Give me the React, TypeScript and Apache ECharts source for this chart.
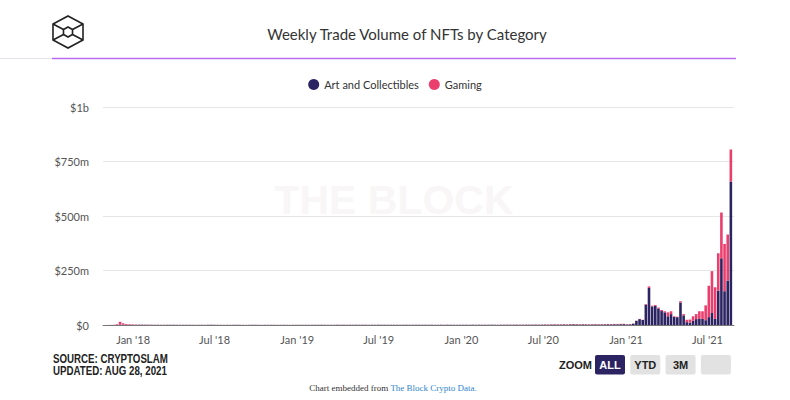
import React, { useEffect, useRef } from "react";
import * as echarts from "echarts";

const TITLE = "Weekly Trade Volume of NFTs by Category";
const SERIES_NAMES = ["Art and Collectibles", "Gaming"];
const SOURCE_LINES = ["SOURCE: CRYPTOSLAM", "UPDATED: AUG 28, 2021"];
const ZOOM_BUTTONS = ["ALL", "YTD", "3M", ""];

// first weekly bucket: Sunday Oct 29 2017, one value per week ($ millions)
const FIRST_WEEK = { y: 2017, m: 9, d: 29 };

const artValues = [
  // 2017 (Oct 29 - Dec 31)
  0.1, 0.1, 0.2, 0.3, 0.6, 1.2, 1.5, 1.1, 0.9, 0.8,
  // 2018
  0.9, 1.1, 1.3, 1.0, 0.8, 0.9, 0.7, 0.8, 0.6, 0.7, 0.9, 0.8, 1.0,
  0.7, 0.6, 0.8, 0.9, 0.7, 0.6, 0.5, 0.7, 0.8, 0.6, 0.9, 1.1, 0.8,
  0.7, 0.6, 0.5, 0.7, 0.6, 0.8, 0.9, 0.7, 0.6, 0.5, 0.6, 0.7, 0.8,
  0.6, 0.5, 0.7, 0.6, 0.8, 0.7, 0.5, 0.6, 0.7, 0.6, 0.5, 0.6, 0.7,
  // 2019
  0.6, 0.5, 0.7, 0.6, 0.8, 0.7, 0.6, 0.9, 0.7, 0.8, 0.6, 0.7, 0.9,
  0.8, 1.0, 0.7, 0.9, 0.8, 1.1, 0.9, 0.8, 1.0, 0.7, 0.9, 0.8, 1.2,
  0.9, 1.0, 0.8, 0.9, 1.1, 0.8, 0.7, 0.9, 1.0, 0.8, 0.9, 1.1, 0.9,
  0.8, 1.0, 0.9, 1.2, 0.8, 0.9, 1.0, 0.8, 1.1, 0.9, 1.0, 0.8, 0.9,
  // 2020
  0.9, 1.0, 0.8, 1.1, 0.9, 1.2, 1.0, 0.9, 1.1, 1.3, 1.0, 0.9, 1.2,
  1.1, 1.3, 1.0, 1.2, 1.4, 1.1, 1.3, 1.5, 1.2, 1.4, 1.6, 1.3, 1.5,
  1.8, 1.6, 1.9, 2.2, 1.8, 2.1, 2.4, 2.0, 2.6, 3.1, 2.5, 2.2, 2.8,
  2.4, 2.0, 2.3, 2.6, 2.2, 2.5, 2.9, 3.2, 2.8, 3.4, 3.0, 3.6, 3.9,
  // 2021 (Jan 3 - Aug 22)
  2.6, 3.3, 6, 19, 27, 23, 93, 170, 85, 88, 76, 64, 58, 40, 50, 37, 36,
  103, 44, 13, 11, 20, 27, 30, 28, 22, 36, 55, 28, 158, 306, 155, 204, 658,
];

const gamingValues = [
  // 2017
  0.1, 0.2, 0.3, 0.5, 3.2, 13.5, 6.1, 3.4, 2.6, 2.2,
  // 2018
  1.2, 1.0, 0.9, 0.8, 0.8, 0.7, 0.7, 0.6, 0.7, 0.6, 0.5, 0.6, 0.5,
  0.5, 0.6, 0.5, 0.4, 0.5, 0.5, 0.4, 0.4, 0.5, 0.4, 0.5, 0.5, 0.4,
  0.4, 0.4, 0.5, 0.4, 0.3, 0.4, 0.4, 0.4, 0.3, 0.4, 0.4, 0.5, 0.4,
  0.4, 0.3, 0.4, 0.4, 0.3, 0.4, 0.4, 0.3, 0.4, 0.3, 0.4, 0.4, 0.3,
  // 2019
  0.5, 0.6, 0.4, 0.5, 0.6, 0.5, 0.7, 0.6, 0.5, 0.4, 0.6, 0.5, 0.7,
  0.6, 0.5, 0.6, 0.8, 0.7, 0.6, 0.5, 0.7, 0.6, 0.5, 0.6, 0.7, 0.5,
  0.6, 0.4, 0.5, 0.6, 0.5, 0.7, 0.6, 0.5, 0.4, 0.6, 0.5, 0.6, 0.7,
  0.5, 0.6, 0.5, 0.4, 0.6, 0.5, 0.7, 0.6, 0.5, 0.6, 0.4, 0.5, 0.6,
  // 2020
  0.5, 0.6, 0.5, 0.7, 0.6, 0.5, 0.6, 0.7, 0.6, 0.5, 0.7, 0.6, 0.8,
  0.7, 0.6, 0.8, 0.7, 0.9, 0.8, 0.7, 0.9, 1.0, 0.8, 0.9, 1.1, 1.0,
  1.2, 1.1, 1.3, 1.2, 1.4, 1.3, 1.5, 1.2, 1.4, 1.6, 1.3, 1.5, 1.4,
  1.2, 1.3, 1.5, 1.4, 1.6, 1.3, 1.5, 1.7, 1.4, 1.6, 1.8, 1.5, 1.7,
  // 2021
  1.4, 1.2, 1, 1, 1, 1, 3, 7, 4, 4, 4, 5, 5, 18, 13, 3, 2,
  6, 6, 11, 14, 20, 23, 33, 35, 68, 144, 192, 145, 171, 210, 217, 211, 147,
];

const Y_TICKS = [0, 250, 500, 750, 1000];
const Y_TICK_LABELS = ["$0", "$250m", "$500m", "$750m", "$1b"];
const X_TICK_DATES = [
  [2018, 0, 1], [2018, 6, 1], [2019, 0, 1], [2019, 6, 1],
  [2020, 0, 1], [2020, 6, 1], [2021, 0, 1], [2021, 6, 1],
];
const MONTHS = ["Jan", "Feb", "Mar", "Apr", "May", "Jun", "Jul", "Aug", "Sep", "Oct", "Nov", "Dec"];
const X_MIN = [2017, 9, 26];
const X_MAX = [2021, 7, 29];

const NAVY = "#2c2462";
const PINK = "#ea3e6d";
const FONT = "Lato, 'Noto Sans', sans-serif";
const ARIAL = "'Liberation Sans', Arial, sans-serif";
const SERIF = "'Liberation Serif', 'Times New Roman', serif";

const ts = (a: number[]) => new Date(a[0], a[1], a[2]).getTime();

export default function App() {
  const ref = useRef<HTMLDivElement>(null);

  useEffect(() => {
    const chart = echarts.init(ref.current!, null, { renderer: "svg" });
    const weekDates = artValues.map((_, i) =>
      new Date(FIRST_WEEK.y, FIRST_WEEK.m, FIRST_WEEK.d + 7 * i).getTime()
    );
    const xTicks = X_TICK_DATES.map(ts);

    const option: any = {
      animation: false,
      backgroundColor: "#ffffff",
      textStyle: { fontFamily: FONT },
      legend: {
        data: SERIES_NAMES,
        top: 74,
        left: "center",
        icon: "circle",
        itemWidth: 11,
        itemHeight: 11,
        itemGap: 10,
        textStyle: { fontSize: 11, color: "#333333", fontFamily: FONT },
      },
      grid: { left: 103, right: 56, top: 107, bottom: 75, containLabel: false },
      xAxis: {
        type: "value",
        min: ts(X_MIN),
        max: ts(X_MAX),
        axisLine: { show: true, onZero: false, lineStyle: { color: "#777777", width: 1 } },
        axisTick: { show: false },
        splitLine: { show: false },
        axisLabel: {
          customValues: xTicks,
          color: "#555555",
          fontSize: 11,
          fontFamily: FONT,
          margin: 9,
          formatter: (v: number) => {
            const d = new Date(v);
            return MONTHS[d.getMonth()] + " '" + String(d.getFullYear()).slice(2);
          },
        },
      },
      yAxis: {
        type: "value",
        min: 0,
        max: 1000,
        interval: 250,
        axisLine: { show: false },
        axisTick: { show: false },
        splitLine: { lineStyle: { color: "#e6e6e6", width: 1 } },
        axisLabel: {
          color: "#555555",
          fontSize: 11,
          fontFamily: FONT,
          margin: 14,
          formatter: (v: number) => Y_TICK_LABELS[Y_TICKS.indexOf(v)] ?? "",
        },
      },
      series: [
        {
          name: SERIES_NAMES[0],
          type: "bar",
          stack: "volume",
          barWidth: 2.6,
          encode: { x: 1, y: 0 },
          itemStyle: { color: NAVY },
          data: weekDates.map((t, i) => [artValues[i], t]),
        },
        {
          name: SERIES_NAMES[1],
          type: "bar",
          stack: "volume",
          barWidth: 2.6,
          encode: { x: 1, y: 0 },
          itemStyle: { color: PINK },
          data: weekDates.map((t, i) => [gamingValues[i], t]),
        },
      ],
      graphic: [
        {
          type: "text",
          z: -10,
          x: 394,
          y: 200,
          style: {
            text: "THE BLOCK",
            fill: "#f8f6f6",
            font: "bold 41px " + ARIAL,
            textAlign: "center",
            textVerticalAlign: "middle",
          },
        },
        {
          type: "group",
          children: [
            {
              type: "polygon",
              shape: { points: [[68, 16], [83, 24], [83, 40], [68, 48], [53, 40], [53, 24]] },
              style: { fill: "none", stroke: "#222222", lineWidth: 1.6 },
            },
            {
              type: "polygon",
              shape: { points: [[68, 27], [72.5, 29.5], [72.5, 34.5], [68, 37], [63.5, 34.5], [63.5, 29.5]] },
              style: { fill: "none", stroke: "#222222", lineWidth: 1.6 },
            },
            { type: "line", shape: { x1: 53, y1: 24, x2: 63.5, y2: 29.5 }, style: { stroke: "#222222", lineWidth: 1.6 } },
            { type: "line", shape: { x1: 83, y1: 24, x2: 72.5, y2: 29.5 }, style: { stroke: "#222222", lineWidth: 1.6 } },
            { type: "line", shape: { x1: 53, y1: 40, x2: 63.5, y2: 34.5 }, style: { stroke: "#222222", lineWidth: 1.6 } },
            { type: "line", shape: { x1: 83, y1: 40, x2: 72.5, y2: 34.5 }, style: { stroke: "#222222", lineWidth: 1.6 } },
          ],
        },
        {
          type: "text",
          x: 407,
          y: 34,
          style: {
            text: TITLE,
            fill: "#333333",
            font: "15px " + FONT,
            textAlign: "center",
            textVerticalAlign: "middle",
          },
        },
        { type: "line", shape: { x1: 0, y1: 58.5, x2: 52, y2: 58.5 }, style: { stroke: "#e6e2ec", lineWidth: 1 } },
        { type: "line", shape: { x1: 52, y1: 58.5, x2: 736, y2: 58.5 }, style: { stroke: "#b96cf2", lineWidth: 1.5 } },
        {
          type: "text",
          x: 53,
          y: 359,
          scaleX: 0.81,
          style: {
            text: SOURCE_LINES[0],
            fill: "#222222",
            font: "bold 12px " + ARIAL,
            textAlign: "left",
            textVerticalAlign: "middle",
          },
        },
        {
          type: "text",
          x: 53,
          y: 371,
          scaleX: 0.81,
          style: {
            text: SOURCE_LINES[1],
            fill: "#222222",
            font: "bold 12px " + ARIAL,
            textAlign: "left",
            textVerticalAlign: "middle",
          },
        },
        {
          type: "text",
          x: 559,
          y: 365,
          style: {
            text: "ZOOM",
            fill: "#222222",
            font: "bold 11px " + ARIAL,
            textAlign: "left",
            textVerticalAlign: "middle",
          },
        },
        ...ZOOM_BUTTONS.map((label, i) => {
          const x = 595 + i * 35.3;
          return {
            type: "group",
            children: [
              {
                type: "rect",
                shape: { x, y: 355, width: 30, height: 19.5, r: 2 },
                style: { fill: i === 0 ? NAVY : "#e2e2e2" },
              },
              {
                type: "text",
                x: x + 15,
                y: 365,
                style: {
                  text: label,
                  fill: i === 0 ? "#ffffff" : "#222222",
                  font: "bold 11px " + ARIAL,
                  textAlign: "center",
                  textVerticalAlign: "middle",
                },
              },
            ],
          };
        }),
        {
          type: "text",
          x: 393,
          y: 388,
          style: {
            text: "{a|Chart embedded from }{b|The Block Crypto Data.}",
            textAlign: "center",
            textVerticalAlign: "middle",
            rich: {
              a: { fill: "#333333", font: "9px " + SERIF },
              b: { fill: "#2f87cc", font: "9px " + SERIF },
            },
          },
        },
      ],
    };
    chart.setOption(option);
    return () => chart.dispose();
  }, []);

  return (
    <div style={{ position: "fixed", left: 0, top: 0, width: 790, height: 400, background: "#fff" }}>
      <div ref={ref} style={{ width: 790, height: 400 }} />
    </div>
  );
}
